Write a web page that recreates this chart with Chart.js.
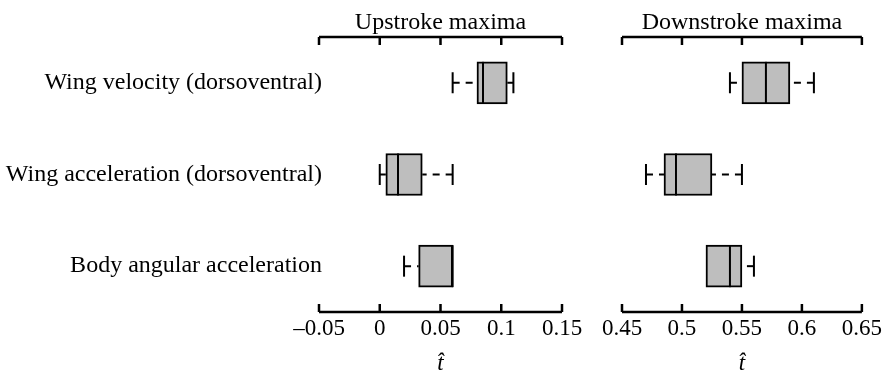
<!DOCTYPE html>
<html>
<head>
<meta charset="utf-8">
<script src="https://cdn.jsdelivr.net/npm/chart.js@4.4.0/dist/chart.umd.min.js"></script>
<style>
  body { margin: 0; background: #fff; }
  #wrap { position: relative; width: 885px; height: 381px; }
  canvas { position: absolute; left: 0; top: 0; }
</style>
</head>
<body>
<div id="wrap">
  <canvas id="upChart" width="885" height="381"></canvas>
  <canvas id="downChart" width="885" height="381"></canvas>
</div>
<script>
const rows = ['Wing velocity (dorsoventral)', 'Wing acceleration (dorsoventral)', 'Body angular acceleration'];

// upstroke maxima (five-number summaries per row)
const upLow = [0.06, 0.0, 0.02];
const upQ1 = [0.08, 0.005, 0.032];
const upMed = [0.085, 0.015, 0.06];
const upQ3 = [0.105, 0.035, 0.06];
const upHigh = [0.11, 0.06, 0.06];
const upTicks = [-0.05, 0, 0.05, 0.1, 0.15];
const upTickLabels = ['\u20130.05', '0', '0.05', '0.1', '0.15'];

// downstroke maxima
const downLow = [0.54, 0.47, 0.52];
const downQ1 = [0.55, 0.485, 0.52];
const downMed = [0.57, 0.495, 0.54];
const downQ3 = [0.59, 0.525, 0.55];
const downHigh = [0.61, 0.55, 0.56];
const downTicks = [0.45, 0.5, 0.55, 0.6, 0.65];
const downTickLabels = ['0.45', '0.5', '0.55', '0.6', '0.65'];

const FONT = 'Liberation Serif';
Chart.defaults.font.family = FONT;
Chart.defaults.font.size = 23;
Chart.defaults.color = '#000';

const BOX_H = 42;

function boxPlugin(title, lo, med, hi, ticks, showRows) {
    return {
        id: 'boxParts',
        afterDatasetsDraw(chart) {
            const ctx = chart.ctx;
            const x = chart.scales.x;
            const y = chart.scales.y;
            ctx.save();
            ctx.strokeStyle = '#000';
            ctx.lineWidth = 2;
            const q1 = chart.data.datasets[0].data.map(d => d[0]);
            const q3 = chart.data.datasets[0].data.map(d => d[1]);
            for (let i = 0; i < rows.length; i++) {
                const cy = y.getPixelForValue(i);
                // dashed whiskers
                ctx.setLineDash([7, 6]);
                ctx.beginPath();
                ctx.moveTo(x.getPixelForValue(lo[i]), cy);
                ctx.lineTo(x.getPixelForValue(q1[i]), cy);
                ctx.moveTo(x.getPixelForValue(hi[i]), cy);
                ctx.lineTo(x.getPixelForValue(q3[i]), cy);
                ctx.stroke();
                ctx.setLineDash([]);
                // caps
                ctx.beginPath();
                if (lo[i] < q1[i]) {
                    ctx.moveTo(x.getPixelForValue(lo[i]), cy - BOX_H / 4);
                    ctx.lineTo(x.getPixelForValue(lo[i]), cy + BOX_H / 4);
                }
                if (hi[i] > q3[i]) {
                    ctx.moveTo(x.getPixelForValue(hi[i]), cy - BOX_H / 4);
                    ctx.lineTo(x.getPixelForValue(hi[i]), cy + BOX_H / 4);
                }
                ctx.stroke();
                // median
                ctx.beginPath();
                ctx.moveTo(x.getPixelForValue(med[i]), cy - BOX_H / 2);
                ctx.lineTo(x.getPixelForValue(med[i]), cy + BOX_H / 2);
                ctx.stroke();
            }
            // axes: top and bottom, ticks pointing inward
            const a = chart.chartArea;
            const x0 = x.getPixelForValue(ticks[0]);
            const x1 = x.getPixelForValue(ticks[ticks.length - 1]);
            ctx.lineWidth = 2.5;
            ctx.beginPath();
            [[a.top, 8], [a.bottom, -8]].forEach(([ly, tl]) => {
                ctx.moveTo(x0, ly);
                ctx.lineTo(x1, ly);
                ticks.forEach(t => {
                    const px = x.getPixelForValue(t);
                    ctx.moveTo(px, ly);
                    ctx.lineTo(px, ly + tl);
                });
            });
            ctx.stroke();
            ctx.fillStyle = '#000';
            ctx.font = '24px ' + FONT;
            // panel title
            ctx.textAlign = 'center';
            ctx.textBaseline = 'alphabetic';
            ctx.fillText(title, (x0 + x1) / 2, 29);
            // row labels, right aligned just past the axis start
            if (showRows) {
                ctx.textAlign = 'right';
                ctx.textBaseline = 'middle';
                chart.data.labels.forEach((lab, i) => {
                    ctx.fillText(lab, a.left + 3, y.getPixelForValue(i));
                });
            }
            ctx.restore();
        }
    };
}

function makeChart(id, title, lo, q1, med, q3, hi, ticks, tickLabels, showRows, leftW, padRight) {
    const boxes = q1.map((v, i) => [v, q3[i]]);
    return new Chart(document.getElementById(id).getContext('2d'), {
        type: 'bar',
        data: {
            labels: rows,
            datasets: [{
                data: boxes,
                backgroundColor: '#bebebe',
                borderColor: '#000',
                borderWidth: 2,
                borderSkipped: false,
                barThickness: BOX_H
            }]
        },
        options: {
            indexAxis: 'y',
            responsive: false,
            animation: false,
            devicePixelRatio: 1,
            layout: { padding: { top: 37, right: padRight, left: 0, bottom: 0 } },
            scales: {
                x: {
                    type: 'linear',
                    min: ticks[0],
                    max: ticks[ticks.length - 1],
                    grid: { display: false, drawTicks: false },
                    border: { display: false },
                    afterBuildTicks: s => { s.ticks = ticks.map(v => ({ value: v })); },
                    afterFit: s => { s.height = 69; },
                    ticks: {
                        padding: 3,
                        maxRotation: 0,
                        autoSkip: false,
                        callback: (v, i) => tickLabels[i]
                    },
                    title: {
                        display: true,
                        text: 't\u0302',
                        font: { style: 'italic', size: 23 },
                        padding: 3
                    }
                },
                y: {
                    grid: { display: false, drawTicks: false },
                    border: { display: false },
                    afterFit: s => { s.width = leftW; },
                    ticks: { display: false }
                }
            },
            plugins: {
                legend: { display: false },
                tooltip: { enabled: false }
            }
        },
        plugins: [boxPlugin(title, lo, med, hi, ticks, showRows)]
    });
}

makeChart('upChart', 'Upstroke maxima', upLow, upQ1, upMed, upQ3, upHigh, upTicks, upTickLabels, true, 319, 323);
makeChart('downChart', 'Downstroke maxima', downLow, downQ1, downMed, downQ3, downHigh, downTicks, downTickLabels, false, 622, 21);
</script>
</body>
</html>
